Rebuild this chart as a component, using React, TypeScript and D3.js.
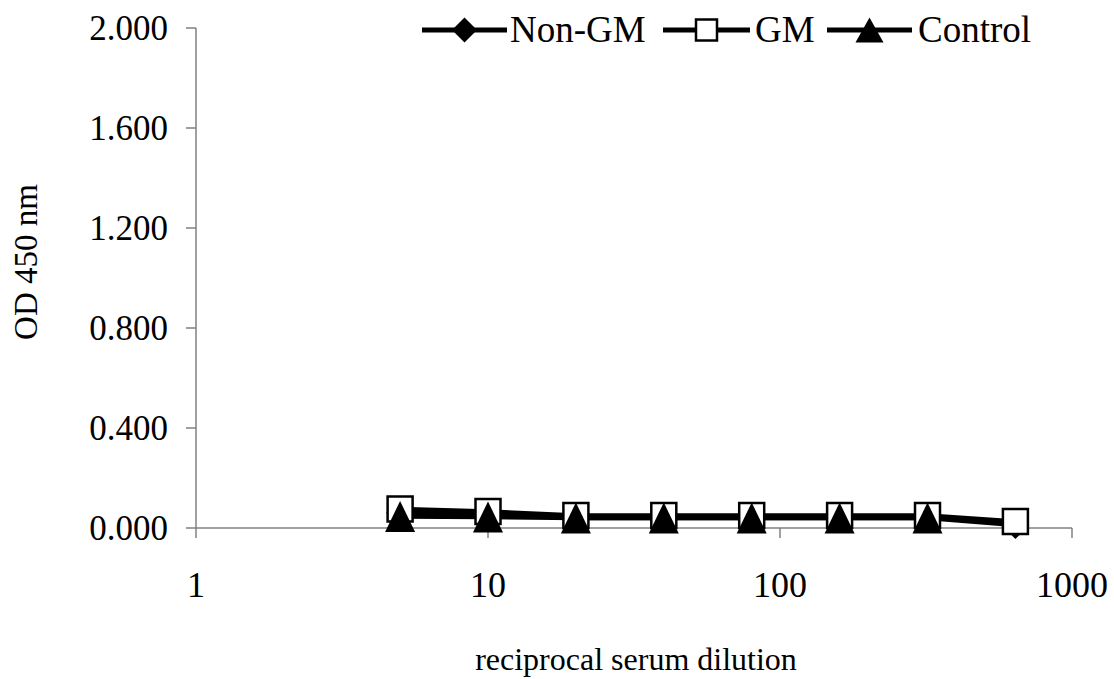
import React from "react";
import * as d3 from "d3";

const dilutions = [5, 10, 20, 40, 80, 160, 320, 640];
const nonGM = [0.06, 0.055, 0.04, 0.04, 0.04, 0.04, 0.04, 0.012];
const gm = [0.076, 0.066, 0.05, 0.05, 0.05, 0.05, 0.05, 0.026];
const control = [0.046, 0.044, 0.04, 0.04, 0.04, 0.04, 0.04];
const yTicks = [0, 0.4, 0.8, 1.2, 1.6, 2.0];
const xTicks = [1, 10, 100, 1000];
const seriesNames = ["Non-GM", "GM", "Control"];

const W = 1114, H = 679;
const font = "'Liberation Serif', 'Times New Roman', 'DejaVu Serif', 'Noto Serif', 'Nimbus Roman', 'Nimbus Roman No9 L', FreeSerif, Tinos, Times, serif";
const tStyle: React.CSSProperties = { fontFamily: font };

function Marker({ kind, x, y, legend }: { kind: string; x: number; y: number; legend?: boolean }) {
  if (kind === "diamond") {
    const s = legend ? 12.5 : 14;
    return <path d={`M${x},${y - s}L${x + s},${y}L${x},${y + s}L${x - s},${y}Z`} fill="#000" />;
  }
  if (kind === "square") {
    const s = legend ? 10.5 : 12.5;
    return <rect x={x - s} y={y - s} width={2 * s} height={2 * s} fill="#fff" stroke="#000" strokeWidth={2.5} />;
  }
  const w = legend ? 14 : 15;
  const h = legend ? 12.5 : 15.5;
  return <path d={`M${x},${y - h}L${x + w},${y + h}L${x - w},${y + h}Z`} fill="#000" />;
}

export default function App() {
  const x = d3.scaleLog().domain([1, 1000]).range([196, 1072]);
  const y = d3.scaleLinear().domain([0, 2]).range([528, 28]);
  const line = d3.line<[number, number]>().x(d => x(d[0])).y(d => y(d[1]));
  const series = [
    { name: seriesNames[0], vals: nonGM, kind: "diamond" },
    { name: seriesNames[1], vals: gm, kind: "square" },
    { name: seriesNames[2], vals: control, kind: "triangle" },
  ];
  const legendX = [422, 663, 827];
  const legendW = [85, 87, 85];
  const legendTextX = [510, 755, 918];
  const axisColor = "#808080";
  return (
    <svg width={W} height={H} style={{ position: "absolute", left: 0, top: 0, background: "#fff" }}>
      <rect width={W} height={H} fill="#fff" />
      {/* axes */}
      <line x1={x(1)} x2={x(1)} y1={y(2)} y2={y(0)} stroke={axisColor} strokeWidth={1.5} />
      <line x1={x(1)} x2={x(1000)} y1={y(0)} y2={y(0)} stroke={axisColor} strokeWidth={1.5} />
      {yTicks.map(t => (
        <g key={t}>
          <line x1={x(1) - 10} x2={x(1)} y1={y(t)} y2={y(t)} stroke={axisColor} strokeWidth={1.5} />
          <text x={168} y={y(t) + 12} textAnchor="end" fontSize={35} fill="#000" style={tStyle}>{t.toFixed(3)}</text>
        </g>
      ))}
      {xTicks.map(t => (
        <g key={t}>
          <line x1={x(t)} x2={x(t)} y1={y(0)} y2={y(0) + 10} stroke={axisColor} strokeWidth={1.5} />
          <text x={x(t)} y={597} textAnchor="middle" fontSize={36} fill="#000" style={tStyle}>{t}</text>
        </g>
      ))}
      <text x={636} y={670} textAnchor="middle" fontSize={32} fill="#000" style={tStyle}>reciprocal serum dilution</text>
      <text transform={`translate(37,262) rotate(-90)`} textAnchor="middle" fontSize={33} fill="#000" style={tStyle}>OD 450 nm</text>
      {/* series */}
      {series.map(s => (
        <path key={s.name} d={line(s.vals.map((v, i) => [dilutions[i], v]) as [number, number][]) || ""} fill="none" stroke="#000" strokeWidth={4.5} strokeLinejoin="round" />
      ))}
      {series.map(s => (
        <g key={s.name + "m"}>
          {s.vals.map((v, i) => <Marker key={i} kind={s.kind} x={x(dilutions[i])} y={y(v)} />)}
        </g>
      ))}
      {/* legend */}
      {series.map((s, i) => (
        <g key={s.name + "l"}>
          <line x1={legendX[i]} x2={legendX[i] + legendW[i]} y1={30} y2={30} stroke="#000" strokeWidth={5} />
          <Marker kind={s.kind} x={legendX[i] + legendW[i] / 2} y={30} legend />
          <text x={legendTextX[i]} y={42} fontSize={37} fill="#000" style={tStyle}>{s.name}</text>
        </g>
      ))}
    </svg>
  );
}
